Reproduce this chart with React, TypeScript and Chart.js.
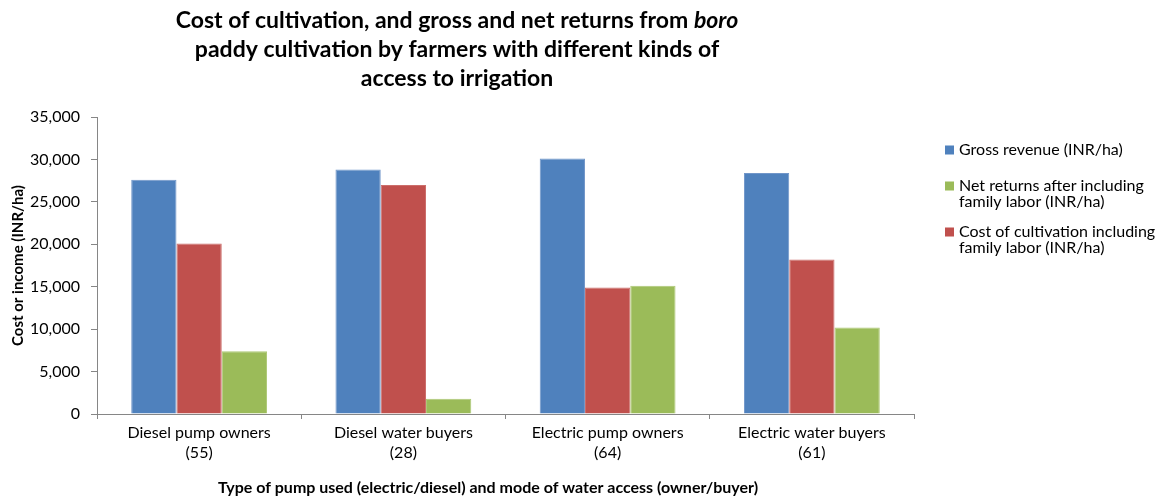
import { useEffect, useRef } from "react";
import { Chart, registerables } from "chart.js";

Chart.register(...registerables);

// Categories: pump type / mode of access, with sample size on the second line
const categories: string[][] = [
  ["Diesel pump owners", "(55)"],
  ["Diesel water buyers", "(28)"],
  ["Electric pump owners", "(64)"],
  ["Electric water buyers", "(61)"],
];

// INR per hectare
const grossRevenue = [27600, 28800, 30100, 28400];
const costOfCultivation = [20100, 27000, 14900, 18200];
const netReturns = [7400, 1800, 15100, 10200];

const yMax = 35000;
const yStep = 5000;

const BLUE = "#4F81BD";
const RED = "#C0504D";
const GREEN = "#9BBB59";
const BLUE_EDGE = "#7196C9";
const RED_EDGE = "#CC6E6B";
const GREEN_EDGE = "#ADC875";
const AXIS = "#868686";
const TEXT = "#000000";
const FONT = "Lato, 'Open Sans', sans-serif";

const titleLines: { t: string; italic?: boolean }[][] = [
  [{ t: "Cost of cultivation, and gross and net returns from " }, { t: "boro", italic: true }],
  [{ t: "paddy cultivation by farmers with different kinds of" }],
  [{ t: "access to irrigation" }],
];

const yTitle = "Cost or income (INR/ha)";
const xTitle = "Type of pump used (electric/diesel) and mode of water access (owner/buyer)";

const legendEntries = [
  { color: BLUE, lines: ["Gross revenue (INR/ha)"] },
  { color: GREEN, lines: ["Net returns after including", "family labor (INR/ha)"] },
  { color: RED, lines: ["Cost of cultivation including", "family labor (INR/ha)"] },
];

const textLayer = {
  id: "textLayer",
  afterDraw(chart: Chart) {
    const ctx = chart.ctx;
    const area = chart.chartArea;
    ctx.save();
    ctx.fillStyle = TEXT;
    ctx.textBaseline = "middle";

    // Title, with the crop name in italics
    const titleSize = 23;
    const titleCenter = 457;
    const titleY = [21, 50, 79];
    titleLines.forEach((segs, i) => {
      const fontOf = (s: { italic?: boolean }) =>
        `${s.italic ? "italic " : ""}bold ${titleSize}px ${FONT}`;
      let total = 0;
      segs.forEach((s) => {
        ctx.font = fontOf(s);
        total += ctx.measureText(s.t).width;
      });
      let x = titleCenter - total / 2;
      ctx.textAlign = "left";
      segs.forEach((s) => {
        ctx.font = fontOf(s);
        ctx.fillText(s.t, x, titleY[i]);
        x += ctx.measureText(s.t).width;
      });
    });

    // Axis titles
    ctx.textAlign = "center";
    ctx.font = `bold 15px ${FONT}`;
    ctx.save();
    ctx.translate(18, (area.top + area.bottom) / 2);
    ctx.rotate(-Math.PI / 2);
    ctx.fillText(yTitle, 0, 0);
    ctx.restore();
    ctx.font = `bold 16px ${FONT}`;
    ctx.fillText(xTitle, 488, 488);

    // Legend
    ctx.font = `16px ${FONT}`;
    ctx.textAlign = "left";
    const boxX = 945;
    const textX = 959;
    const lineH = 16;
    const entryY = [150, 186, 232];
    legendEntries.forEach((e, i) => {
      ctx.fillStyle = e.color;
      ctx.fillRect(boxX, entryY[i] - 4.5, 9, 9);
      ctx.fillStyle = TEXT;
      e.lines.forEach((ln, j) => ctx.fillText(ln, textX, entryY[i] + j * lineH));
    });
    ctx.restore();
  },
};

export default function App() {
  const canvasRef = useRef<HTMLCanvasElement | null>(null);

  useEffect(() => {
    if (!canvasRef.current) return;
    const chart = new Chart(canvasRef.current, {
      type: "bar",
      data: {
        labels: categories,
        datasets: [
          { label: "Gross revenue (INR/ha)", data: grossRevenue, backgroundColor: BLUE, borderColor: BLUE_EDGE },
          { label: "Cost of cultivation including family labor (INR/ha)", data: costOfCultivation, backgroundColor: RED, borderColor: RED_EDGE },
          { label: "Net returns after including family labor (INR/ha)", data: netReturns, backgroundColor: GREEN, borderColor: GREEN_EDGE },
        ],
      },
      options: {
        animation: false,
        responsive: true,
        maintainAspectRatio: false,
        layout: { padding: { top: 117, right: 245, bottom: 0, left: 0 } },
        datasets: { bar: { categoryPercentage: 0.665, barPercentage: 1, borderWidth: 1 } },
        plugins: {
          legend: { display: false },
          title: { display: false },
          tooltip: { enabled: false },
        },
        scales: {
          x: {
            offset: true,
            grid: {
              offset: true,
              drawOnChartArea: false,
              drawTicks: true,
              tickLength: 5,
              color: AXIS,
            },
            border: { color: AXIS, width: 1 },
            ticks: {
              color: TEXT,
              font: { family: FONT, size: 16, lineHeight: 1.3 },
              padding: 3,
              maxRotation: 0,
              autoSkip: false,
            },
            afterFit: (scale: any) => {
              scale.height = 84;
            },
          },
          y: {
            min: 0,
            max: yMax,
            grid: {
              drawOnChartArea: false,
              drawTicks: true,
              tickLength: 6,
              color: AXIS,
            },
            border: { color: AXIS, width: 1 },
            ticks: {
              stepSize: yStep,
              color: TEXT,
              font: { family: FONT, size: 16 },
              padding: 11,
              callback: (v: any) => Number(v).toLocaleString("en-US"),
            },
            afterFit: (scale: any) => {
              scale.width = 97;
            },
          },
        },
      },
      plugins: [textLayer],
    });
    return () => chart.destroy();
  }, []);

  return (
    <div style={{ position: "fixed", left: 0, top: 0, width: 1159, height: 498, background: "#fff" }}>
      <canvas ref={canvasRef} />
    </div>
  );
}
